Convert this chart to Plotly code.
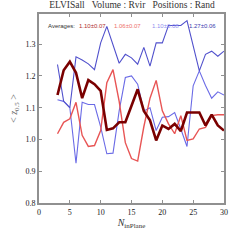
import plotly.graph_objects as go

n_inplane = list(range(3, 31))

dark_red = [1.14, 1.218, 1.245, 1.21, 1.13, 1.187, 1.174, 1.153, 1.03, 1.035,
            1.054, 1.054, 1.106, 1.158, 1.09, 1.06, 0.997, 1.044, 1.033, 1.049,
            1.026, 1.085, 1.085, 1.085, 1.044, 1.078, 1.044, 1.028]
red = [1.018, 1.054, 1.065, 1.117, 1.013, 0.978, 0.981, 1.028, 1.179, 1.22,
       1.12, 0.99, 0.94, 0.932, 1.04, 1.13, 1.186, 1.09, 1.049, 1.018,
       1.075, 0.997, 1.002, 1.033, 1.038, 1.075, 1.078, 1.078]
blue_low = [1.125, 1.12, 1.10, 0.925, 1.117, 1.11, 1.11, 1.04, 0.955, 0.957,
            1.09, 1.195, 1.2, 1.174, 1.09, 1.10, 1.028, 1.07, 1.072, 1.085,
            1.033, 0.978, 1.169, 1.216, 1.17, 1.13, 1.15, 1.14]
blue_high = [1.236, 1.12, 1.10, 1.26, 1.25, 1.238, 1.22, 1.304, 1.356, 1.30,
             1.24, 1.268, 1.257, 1.237, 1.29, 1.231, 1.304, 1.304, 1.359, 1.359,
             1.359, 1.374, 1.29, 1.216, 1.268, 1.278, 1.262, 1.278]

avg_labels = ["1.10±0.07", "1.06±0.07", "1.10±0.08", "1.27±0.06"]
avg_colors = ["#b03030", "#ee7070", "#9090ee", "#4040b0"]
x_ticks = [0, 5, 10, 15, 20, 25, 30]
y_ticks = [0.8, 0.9, 1.0, 1.1, 1.2, 1.3]

FONT = "Liberation Serif"

fig = go.Figure()
fig.add_trace(go.Scatter(x=n_inplane, y=blue_low, mode="lines",
                         line=dict(color="#6a6ae6", width=1.1)))
fig.add_trace(go.Scatter(x=n_inplane, y=blue_high, mode="lines",
                         line=dict(color="#5050cc", width=1.1)))
fig.add_trace(go.Scatter(x=n_inplane, y=red, mode="lines",
                         line=dict(color="#e85555", width=1.4)))
fig.add_trace(go.Scatter(x=n_inplane, y=dark_red, mode="lines",
                         line=dict(color="#7a0000", width=2.6)))

axis_common = dict(showgrid=False, zeroline=False, showline=True, mirror="ticks",
                   linecolor="#909090", linewidth=2, ticks="inside", ticklen=3,
                   tickcolor="#909090", tickfont=dict(family=FONT, size=8, color="#222222"))
fig.update_xaxes(range=[0, 30], tickvals=x_ticks, ticktext=[str(t) for t in x_ticks],
                 title=dict(text="<i>N</i><sub>inPlane</sub>", font=dict(family=FONT, size=10, color="#333"),
                            standoff=2), **axis_common)
fig.update_yaxes(range=[0.8, 1.395], tickvals=y_ticks, ticktext=[f"{t:.1f}" for t in y_ticks],
                 title=dict(text="&lt; <i>z</i><sub>0.5</sub> &gt;", font=dict(family=FONT, size=10, color="#666"),
                            standoff=6), **axis_common)

fig.add_annotation(x=0.036, y=0.963, xref="paper", yref="paper", text="Averages:",
                   showarrow=False, xanchor="left", font=dict(family="Liberation Sans", size=6, color="#333"))
xs = [0.203, 0.396, 0.599, 0.802]
for xp, t, c in zip(xs, avg_labels, avg_colors):
    fig.add_annotation(x=xp, y=0.963, xref="paper", yref="paper", text=t, showarrow=False,
                       xanchor="left", font=dict(family="Liberation Sans", size=6, color=c))

fig.update_layout(
    width=240, height=240, showlegend=False,
    paper_bgcolor="white", plot_bgcolor="white",
    margin=dict(l=36, r=12, t=13, b=37),
    title=dict(text="ELVISall   Volume : Rvir   Positions : Rand", x=0.55, xanchor="center",
               y=0.995, yanchor="top", font=dict(family=FONT, size=9.5, color="#333")),
)

fig.write_html("out.html", config={"displayModeBar": False},
               post_script="document.body.style.margin='0';document.body.style.overflow='hidden';")
